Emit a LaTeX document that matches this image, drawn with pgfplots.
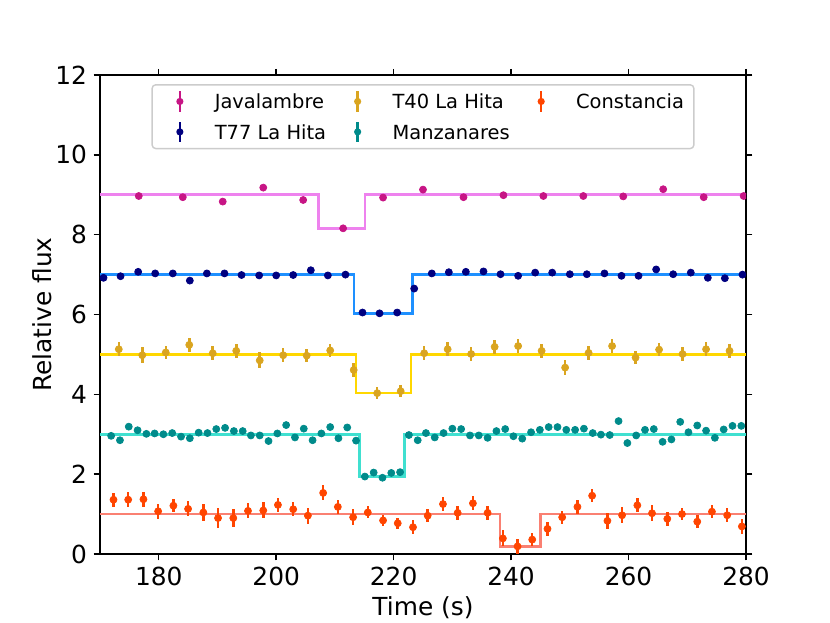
\documentclass[border=0pt]{standalone}
\usepackage{fontspec}
\setmainfont{DejaVu Sans}
\usepackage{pgfplots}
\usepackage{pgfplotstable}
\pgfplotsset{compat=1.18}
\definecolor{mviolet}{HTML}{EE82EE}
\definecolor{mdodger}{HTML}{1E90FF}
\definecolor{mgold}{HTML}{FFD700}
\definecolor{mturq}{HTML}{40E0D0}
\definecolor{msalmon}{HTML}{FA8072}
\definecolor{pmvr}{HTML}{C71585}
\definecolor{pnavy}{HTML}{000080}
\definecolor{pgoldr}{HTML}{DAA520}
\definecolor{pdcyan}{HTML}{008B8B}
\definecolor{porange}{HTML}{FF4500}

\pgfplotstableread{
t f e
176.6 8.97 0.04
184.1 8.94 0.04
190.9 8.83 0.04
197.8 9.18 0.04
204.6 8.87 0.04
211.4 8.16 0.04
218.2 8.93 0.04
225.0 9.13 0.04
231.9 8.94 0.04
238.7 8.99 0.04
245.5 8.97 0.04
252.3 8.97 0.04
259.1 8.96 0.04
265.9 9.14 0.04
272.8 8.94 0.04
279.6 8.97 0.04
}\jav

\pgfplotstableread{
t f e
170.6 6.92 0.05
173.5 6.96 0.05
176.5 7.07 0.05
179.4 7.03 0.05
182.4 7.03 0.05
185.3 6.85 0.05
188.2 7.03 0.05
191.2 7.03 0.05
194.1 6.99 0.05
197.1 6.98 0.05
200.0 6.98 0.05
202.9 6.99 0.05
205.9 7.11 0.05
208.8 6.98 0.05
211.8 7.00 0.05
214.7 6.05 0.05
217.6 6.03 0.05
220.6 6.05 0.05
223.5 6.65 0.05
226.5 7.03 0.05
229.4 7.06 0.05
232.3 7.07 0.05
235.3 7.08 0.05
238.2 7.01 0.05
241.2 6.97 0.05
244.1 7.05 0.05
247.0 7.05 0.05
250.0 7.01 0.05
252.9 7.01 0.05
255.9 7.03 0.05
258.8 6.97 0.05
261.7 6.97 0.05
264.7 7.13 0.05
267.6 7.01 0.05
270.6 7.05 0.05
273.5 6.92 0.05
276.4 6.91 0.05
279.4 7.00 0.05
}\tss

\pgfplotstableread{
t f e
173.2 5.13 0.17
177.2 4.98 0.20
181.2 5.05 0.17
185.2 5.24 0.17
189.2 5.03 0.17
193.2 5.09 0.17
197.2 4.85 0.20
201.2 4.98 0.18
205.2 4.97 0.17
209.2 5.10 0.17
213.2 4.61 0.17
217.2 4.03 0.15
221.2 4.08 0.15
225.2 5.03 0.17
229.2 5.13 0.17
233.2 5.01 0.17
237.2 5.19 0.17
241.2 5.21 0.17
245.2 5.09 0.17
249.2 4.67 0.18
253.2 5.04 0.17
257.2 5.21 0.17
261.2 4.92 0.17
265.2 5.12 0.17
269.2 5.01 0.17
273.2 5.13 0.17
277.2 5.09 0.17
}\tfo

\pgfplotstableread{
t f e
171.9 2.96 0.05
173.4 2.85 0.05
174.9 3.19 0.05
176.4 3.10 0.05
177.9 3.01 0.05
179.3 3.02 0.05
180.8 3.00 0.05
182.3 3.03 0.05
183.8 2.94 0.05
185.3 2.90 0.05
186.8 3.04 0.05
188.3 3.03 0.05
189.8 3.13 0.05
191.3 3.16 0.05
192.8 3.08 0.05
194.3 3.08 0.05
195.7 2.97 0.05
197.2 2.97 0.05
198.7 2.83 0.05
200.2 3.02 0.05
201.7 3.23 0.05
203.2 2.92 0.05
204.7 3.14 0.05
206.2 2.85 0.05
207.7 3.02 0.05
209.2 3.18 0.05
210.6 2.90 0.05
212.1 3.17 0.05
213.6 2.84 0.05
215.1 1.94 0.05
216.6 2.04 0.05
218.1 1.91 0.05
219.6 2.03 0.05
221.1 2.05 0.05
222.6 2.98 0.05
224.1 2.85 0.05
225.5 3.03 0.05
227.0 2.92 0.05
228.5 3.03 0.05
230.0 3.14 0.05
231.5 3.13 0.05
233.0 2.97 0.05
234.5 2.97 0.05
236.0 2.91 0.05
237.5 3.08 0.05
239.0 3.13 0.05
240.4 2.95 0.05
241.9 2.89 0.05
243.4 3.05 0.05
244.9 3.11 0.05
246.4 3.18 0.05
247.9 3.18 0.05
249.4 3.11 0.05
250.9 3.11 0.05
252.4 3.14 0.05
253.9 3.03 0.05
255.3 2.99 0.05
256.8 2.98 0.05
258.3 3.33 0.05
259.8 2.78 0.05
261.3 2.97 0.05
262.8 3.11 0.05
264.3 3.13 0.05
265.8 2.81 0.05
267.3 2.87 0.05
268.8 3.31 0.05
270.2 3.05 0.05
271.7 3.22 0.05
273.2 3.09 0.05
274.7 2.91 0.05
276.2 3.12 0.05
277.7 3.21 0.05
279.2 3.21 0.05
}\man

\pgfplotstableread{
t f e
172.3 1.36 0.18
174.8 1.36 0.19
177.4 1.37 0.19
179.9 1.07 0.19
182.5 1.21 0.17
185.0 1.13 0.19
187.6 1.04 0.22
190.1 0.90 0.24
192.7 0.90 0.22
195.2 1.08 0.19
197.8 1.09 0.20
200.3 1.23 0.18
202.9 1.12 0.18
205.4 0.96 0.20
208.0 1.53 0.19
210.5 1.18 0.18
213.1 0.92 0.20
215.6 1.04 0.15
218.2 0.84 0.14
220.7 0.77 0.14
223.3 0.67 0.18
225.8 0.96 0.17
228.4 1.25 0.17
230.9 1.03 0.17
233.5 1.27 0.18
236.0 1.03 0.18
238.6 0.39 0.20
241.1 0.19 0.19
243.6 0.36 0.16
246.2 0.63 0.18
248.7 0.92 0.16
251.3 1.18 0.17
253.8 1.46 0.17
256.4 0.83 0.20
258.9 0.97 0.20
261.5 1.22 0.18
264.0 1.02 0.20
266.6 0.88 0.18
269.1 1.00 0.16
271.7 0.81 0.16
274.2 1.06 0.17
276.8 0.97 0.18
279.3 0.69 0.18
}\con

\pgfplotsset{
  errleg/.style={legend image code/.code={
    \path[draw=none, fill=none] (0pt,-4pt) rectangle (29.3pt,4pt);
    \draw[overlay, line width=1.4pt,draw=#1] (9.9pt,-5.6pt) -- (9.9pt,5.6pt);
    \fill[overlay, fill=#1, draw=none] (9.9pt,0pt) circle (2pt);}},
  errpts/.style={only marks, mark=*, mark size=1.95pt, color=#1,
    mark options={draw=#1, fill=#1, solid},
    errleg=#1,
    error bars/.cd, y dir=both, y explicit, error mark=none,
    error bar style={line width=1.4pt, solid, color=#1}},
}

\begin{document}
\begin{tikzpicture}
\path[use as bounding box] (-55.52pt,-38.31pt) rectangle (405.34pt,307.59pt);
\begin{axis}[
  at={(0,0)}, anchor=south west,
  scale only axis, width=358.7pt, height=265.9pt,
  xmin=170, xmax=280, ymin=0, ymax=12,
  xtick={180,200,...,280}, ytick={0,2,...,12},
  tick align=outside, major tick length=3.5pt,
  every tick/.style={black, line width=0.8pt},
  axis line style={line width=0.8pt},
  /pgf/number format/assume math mode=true,
  /pgf/number format/1000 sep={},
  tick label style={font=\fontsize{13.8}{16}\selectfont},
  xticklabel style={inner ysep=3.5pt},
  yticklabel style={inner xsep=3.5pt},
  xlabel={Time (s)}, ylabel={Relative flux},
  label style={font=\fontsize{13.8}{16}\selectfont},
  xlabel style={at={(axis description cs:0.5,-0.1275)}, anchor=base},
  ylabel style={at={(axis description cs:-0.0745,0.5)}, anchor=base, rotate=0},
  clip marker paths=true,
  legend columns=3,
  legend cell align=left,
  legend style={
    at={(axis description cs:0.5,1)}, anchor=north, yshift=-5.0pt,
    draw=black!20, line width=0.8pt, rounded corners=2pt,
    font=\fontsize{10.8}{13}\selectfont,
    inner xsep=5.5pt, inner ysep=4.0pt,
    nodes={inner sep=0pt, text height=9.2pt, text depth=1.3pt},
    /tikz/every even column/.append style={column sep=7.6pt},
    row sep=6.4pt,
  },
]
\addplot[const plot, mviolet, line width=1.5pt, forget plot] coordinates {(170,9) (207.2,8.16) (215.1,9) (280,9)};
\addplot[const plot, mdodger, line width=1.5pt, forget plot] coordinates {(170,7) (213.25,6.03) (223.2,7) (280,7)};
\addplot[const plot, mgold, line width=1.5pt, forget plot] coordinates {(170,5) (213.6,4.03) (222.95,5) (280,5)};
\addplot[const plot, mturq, line width=1.5pt, forget plot] coordinates {(170,3) (214.15,1.94) (221.8,3) (280,3)};
\addplot[const plot, msalmon, line width=1.5pt, forget plot] coordinates {(170,1) (238.1,0.18) (244.95,1) (280,1)};

\addplot[errpts=pmvr] table[x=t, y=f, y error=e] {\jav};
\addlegendentry{Javalambre}
\addplot[errpts=pgoldr] table[x=t, y=f, y error=e] {\tfo};
\addlegendentry{T40 La Hita}
\addplot[errpts=porange] table[x=t, y=f, y error=e] {\con};
\addlegendentry{Constancia}
\addplot[errpts=pnavy] table[x=t, y=f, y error=e] {\tss};
\addlegendentry{T77 La Hita}
\addplot[errpts=pdcyan] table[x=t, y=f, y error=e] {\man};
\addlegendentry{Manzanares}
\end{axis}
\end{tikzpicture}
\end{document}
